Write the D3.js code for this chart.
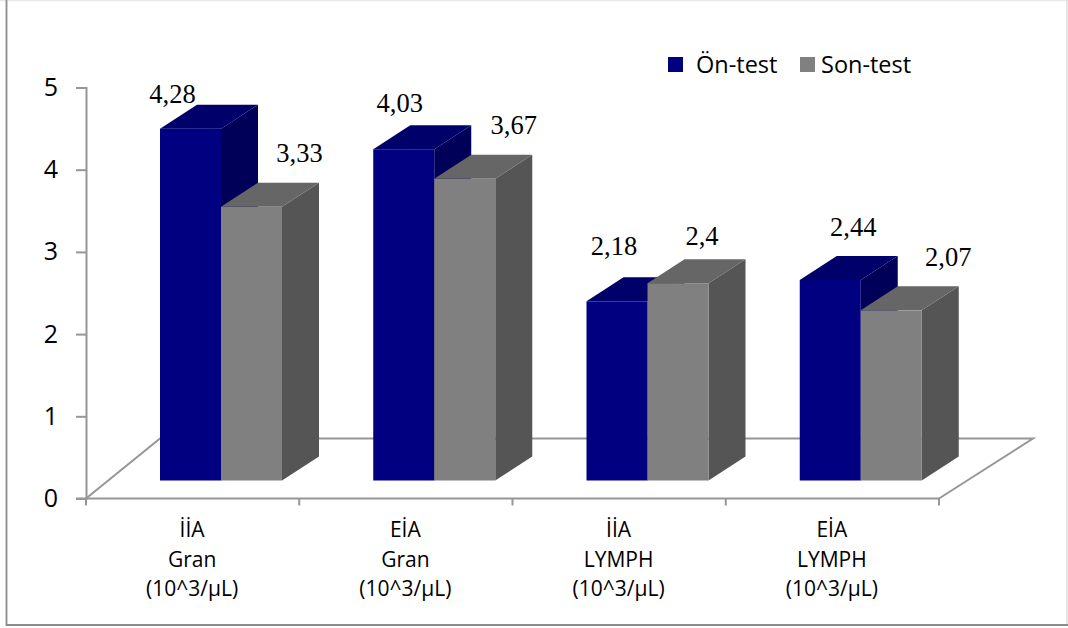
<!DOCTYPE html>
<html>
<head>
<meta charset="utf-8">
<script src="https://cdnjs.cloudflare.com/ajax/libs/d3/7.8.5/d3.min.js"></script>
<style>
html,body{margin:0;padding:0;background:#fff;}
svg{display:block;}
</style>
</head>
<body>
<div id="chart"></div>
<script>
// Pre-test / post-test blood counts, drawn as a pseudo-3D clustered column chart.
const categories = ["İİA|Gran|(10^3/µL)", "EİA|Gran|(10^3/µL)", "İİA|LYMPH|(10^3/µL)", "EİA|LYMPH|(10^3/µL)"];
const seriesNames = ["Ön-test", "Son-test"];
const onTest = [4.28, 4.03, 2.18, 2.44];
const sonTest = [3.33, 3.67, 2.4, 2.07];
const onLabels = ["4,28", "4,03", "2,18", "2,44"];
const sonLabels = ["3,33", "3,67", "2,4", "2,07"];
const yTicks = [0, 1, 2, 3, 4, 5];

// Hand-placed label offsets from each column's front top-left corner.
const onLabelOffset = [[13, -26], [27, -37], [28, -46], [54, -44]];
const sonLabelOffset = [[79, -45], [80, -45], [55, -38], [88, -44]];

const width = 1068, height = 628;
const depthX = 37, depthY = -24, floorLift = 18;
const sansFont = "'Open Sans', sans-serif";

const palette = [
  {front: "#000080", top: "#00006a", side: "#000058"},
  {front: "#808080", top: "#666666", side: "#555555"}
];

const svg = d3.select("#chart").append("svg").attr("width", width).attr("height", height);

// Outer frame: dark left and bottom edges, faint top and right edges
const frame = [
  {x1: 0, y1: 0.5, x2: 1068, y2: 0.5, c: "#e8e8e8", w: 1.5},
  {x1: 1067, y1: 0, x2: 1067, y2: 625, c: "#dcdcdc", w: 1.5},
  {x1: 6.5, y1: 0, x2: 6.5, y2: 626, c: "#8c8c8c", w: 1.8},
  {x1: 6, y1: 625, x2: 1068, y2: 625, c: "#8c8c8c", w: 1.8}
];
svg.append("g").selectAll("line").data(frame).join("line")
  .attr("x1", d => d.x1).attr("y1", d => d.y1).attr("x2", d => d.x2).attr("y2", d => d.y2)
  .attr("stroke", d => d.c).attr("stroke-width", d => d.w);

const y = d3.scaleLinear().domain([0, 5]).range([498.5, 87.5]);
const x = d3.scaleBand().domain(d3.range(categories.length)).range([86, 939]);
const barW = 61;
const groupInset = 74;

const axisColor = "#969696";

// Floor of the 3D plot
const floorPath = d3.path();
floorPath.moveTo(x.range()[0], y(0));
floorPath.lineTo(x.range()[0] + depthX * 2, y(0) + depthY * 2.5);
floorPath.lineTo(x.range()[1] + 94, y(0) + depthY * 2.5);
floorPath.lineTo(x.range()[1], y(0));
svg.append("path").attr("d", floorPath.toString()).attr("fill", "none")
  .attr("stroke", axisColor).attr("stroke-width", 2);

// Value axis
const yAxis = d3.axisLeft(y).tickValues(yTicks).tickSize(10).tickPadding(18).tickFormat(d3.format("d"));
const yG = svg.append("g").attr("transform", "translate(86,0)").call(yAxis);
yG.selectAll("path,line").attr("stroke", axisColor).attr("stroke-width", 2);
yG.selectAll("text").attr("font-family", sansFont).attr("font-size", 25).attr("fill", "#000");

// Category axis: ticks sit on band edges
svg.append("line").attr("x1", 76).attr("x2", 939).attr("y1", y(0)).attr("y2", y(0))
  .attr("stroke", axisColor).attr("stroke-width", 2);
const edges = categories.map((_, i) => x(i)).concat(x.range()[1]);
svg.append("g").selectAll("line").data(edges).join("line")
  .attr("x1", d => d).attr("x2", d => d).attr("y1", y(0)).attr("y2", y(0) + 7)
  .attr("stroke", axisColor).attr("stroke-width", 2);

// Category labels, one line per segment
const catLabels = svg.append("g").selectAll("text").data(categories).join("text")
  .attr("text-anchor", "middle").attr("font-family", sansFont).attr("font-size", 21).attr("fill", "#000");
catLabels.each(function (d, i) {
  const el = d3.select(this);
  d.split("|").forEach((line, k) => {
    el.append("tspan").attr("x", x(i) + x.bandwidth() / 2 - 0.5).attr("y", 537 + k * 29.5).text(line);
  });
});

// One extruded column: front, top and side faces
function column(parent, x0, value, colors) {
  const x1 = x0 + barW;
  const yTop = y(value) - floorLift;
  const yBase = y(0) - floorLift;
  const poly = pts => pts.map(p => p.join(",")).join(" ");
  parent.append("polygon").attr("fill", colors.side)
    .attr("points", poly([[x1, yTop], [x1 + depthX, yTop + depthY], [x1 + depthX, yBase + depthY], [x1, yBase]]));
  parent.append("polygon").attr("fill", colors.top)
    .attr("points", poly([[x0, yTop], [x0 + depthX, yTop + depthY], [x1 + depthX, yTop + depthY], [x1, yTop]]));
  parent.append("rect").attr("fill", colors.front)
    .attr("x", x0).attr("y", yTop).attr("width", barW).attr("height", yBase - yTop);
}

const bars = svg.append("g");
categories.forEach((_, i) => {
  const left = x(i) + groupInset;
  column(bars, left, onTest[i], palette[0]);
  column(bars, left + barW, sonTest[i], palette[1]);
});

// Value labels
const labelRows = [
  {values: onTest, text: onLabels, off: onLabelOffset, shift: 0},
  {values: sonTest, text: sonLabels, off: sonLabelOffset, shift: barW}
];
labelRows.forEach(row => {
  row.values.forEach((v, i) => {
    svg.append("text")
      .attr("x", x(i) + groupInset + row.shift + row.off[i][0] - 0.5)
      .attr("y", y(v) - floorLift + row.off[i][1])
      .attr("text-anchor", "middle")
      .attr("font-family", "'Liberation Serif', serif")
      .attr("font-size", 26.5).attr("fill", "#000")
      .text(row.text[i]);
  });
});

// Legend
const legendX = [668, 800], legendTextX = [696, 821];
seriesNames.forEach((name, i) => {
  svg.append("rect").attr("x", legendX[i]).attr("y", 57).attr("width", 15).attr("height", 15)
    .attr("fill", palette[i].front);
  svg.append("text").attr("x", legendTextX[i]).attr("y", 73)
    .attr("font-family", sansFont).attr("font-size", 23.5).attr("fill", "#000").text(name);
});
</script>
</body>
</html>
